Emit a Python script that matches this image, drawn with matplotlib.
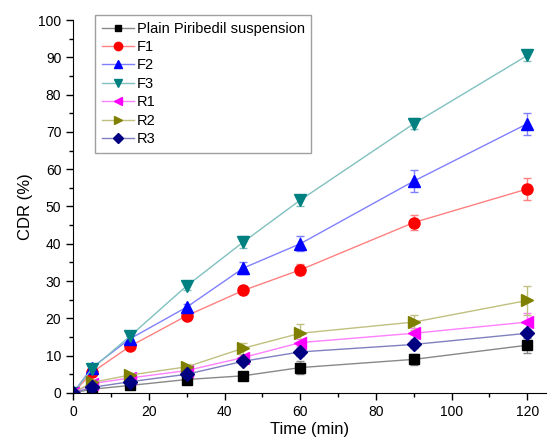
import matplotlib
matplotlib.use("Agg")
import matplotlib.pyplot as plt
from matplotlib.lines import Line2D
from matplotlib.ticker import MultipleLocator

plt.rcParams['font.family'] = ['Liberation Sans', 'DejaVu Sans']

time = [0, 5, 15, 30, 45, 60, 90, 120]

labels = ["Plain Piribedil suspension", "F1", "F2", "F3", "R1", "R2", "R3"]

plain = [0, 1.0, 2.0, 3.6, 4.6, 6.8, 9.0, 12.8]
f1 = [0, 5.5, 12.5, 20.7, 27.5, 33.0, 45.7, 54.7]
f2 = [0, 6.8, 14.5, 23.0, 33.5, 40.0, 56.8, 72.2]
f3 = [0, 6.5, 15.2, 28.7, 40.5, 51.7, 72.2, 90.5]
r1 = [0, 2.5, 4.0, 6.0, 9.5, 13.5, 16.0, 19.0]
r2 = [0, 2.8, 4.8, 7.0, 12.0, 16.0, 19.0, 24.8]
r3 = [0, 1.5, 3.0, 5.0, 8.5, 11.0, 13.0, 16.0]

plain_err = [0, 0.3, 0.4, 0.5, 0.6, 1.8, 1.5, 2.2]
f1_err = [0, 0.8, 0.8, 0.8, 1.0, 1.5, 2.0, 3.0]
f2_err = [0, 0.8, 0.8, 0.8, 1.5, 2.0, 3.0, 3.0]
f3_err = [0, 0.6, 0.8, 1.0, 1.5, 1.5, 1.5, 1.5]
r1_err = [0, 0.5, 0.5, 0.6, 0.8, 1.0, 1.5, 2.5]
r2_err = [0, 0.5, 0.6, 0.8, 1.5, 2.5, 2.0, 4.0]
r3_err = [0, 0.4, 0.5, 0.6, 0.8, 1.0, 1.0, 1.2]

series = [plain, f1, f2, f3, r1, r2, r3]
errors = [plain_err, f1_err, f2_err, f3_err, r1_err, r2_err, r3_err]
markers = ['s', 'o', '^', 'v', '<', '>', 'D']
colors = ['#000000', '#ff0000', '#0000ff', '#008080', '#ff00ff', '#808000', '#000080']
light = ['#888888', '#ff8080', '#8080ff', '#80c0c0', '#ff80ff', '#c0c080', '#8080c0']
msizes = [7, 8, 8, 8, 8, 8, 7]

fig = plt.figure(figsize=(5.58, 4.45), dpi=100)
ax = fig.add_axes([0.131, 0.117, 0.848, 0.838])

handles = []
for y, e, m, c, lc, ms, lab in zip(series, errors, markers, colors, light, msizes, labels):
    ax.errorbar(time, y, yerr=e, color=lc, lw=1, capsize=3, capthick=1,
                elinewidth=1, marker=m, markersize=ms, markerfacecolor=c,
                markeredgecolor=c)
    handles.append(Line2D([], [], color=lc, lw=1, marker=m, markersize=ms - 2,
                          markerfacecolor=c, markeredgecolor=c, label=lab))

ax.set_xlim(0, 125)
ax.set_ylim(0, 100)
ax.xaxis.set_major_locator(MultipleLocator(20))
ax.xaxis.set_minor_locator(MultipleLocator(10))
ax.yaxis.set_major_locator(MultipleLocator(10))
ax.yaxis.set_minor_locator(MultipleLocator(5))
ax.tick_params(which='major', length=5, width=1, labelsize=10)
ax.tick_params(which='minor', length=3, width=1)
for s in ['top', 'right']:
    ax.spines[s].set_visible(False)

ax.set_xlabel("Time (min)", fontsize=12, labelpad=2)
ax.set_ylabel("CDR (%)", fontsize=12)

leg = ax.legend(handles=handles, loc='upper left', bbox_to_anchor=(0.047, 1.013),
                fontsize=10.5, frameon=True, fancybox=False, edgecolor='#888888',
                handlelength=2.2, borderpad=0.45, labelspacing=0.3,
                handletextpad=0.2, borderaxespad=0)
leg.get_frame().set_linewidth(1)

fig.savefig("out.png", dpi=100)
